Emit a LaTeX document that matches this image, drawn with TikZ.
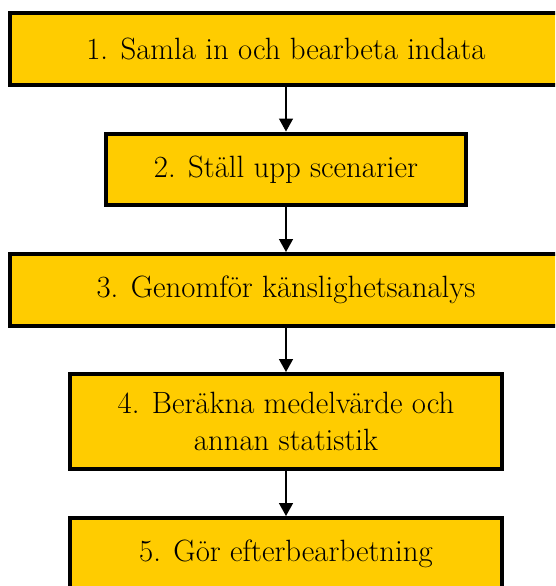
\documentclass[tikz,border=0pt]{standalone}
\usetikzlibrary{arrows.meta}
\definecolor{stagegold}{HTML}{FFCC00}

\begin{document}
\begin{tikzpicture}[x=1pt, y=-1pt,
    stage/.style={rectangle, draw=black, line width=4pt, fill=stagegold,
      align=center, inner sep=0pt, minimum height=71.5pt,
      font=\fontsize{30.8}{37}\selectfont},
    flow/.style={-{Triangle[width=14pt,length=13pt]}, line width=1.5pt}]

\useasboundingbox (0,0) rectangle (555,586);
\clip (0,0) rectangle (555,586);

\node[stage, minimum width=552pt] (collect) at (286, 49.25) {1. Samla in och bearbeta indata};

\node[stage, minimum width=360pt] (scenario) at (286, 169.25) {2. Ställ upp scenarier};

\node[stage, minimum width=552pt] (sensitivity) at (286, 289.75) {3. Genomför känslighetsanalys};

\node[stage, minimum width=432pt,
      minimum height=95pt] (stats) at (286, 421.5) {4. Beräkna medelvärde och\\annan statistik};

\node[stage, minimum width=432pt] (post) at (286, 553.75) {5. Gör efterbearbetning};

\draw[flow] (collect) -- (scenario);
\draw[flow] (scenario) -- (sensitivity);
\draw[flow] (sensitivity) -- (stats);
\draw[flow] (stats) -- (post);

\end{tikzpicture}
\end{document}
